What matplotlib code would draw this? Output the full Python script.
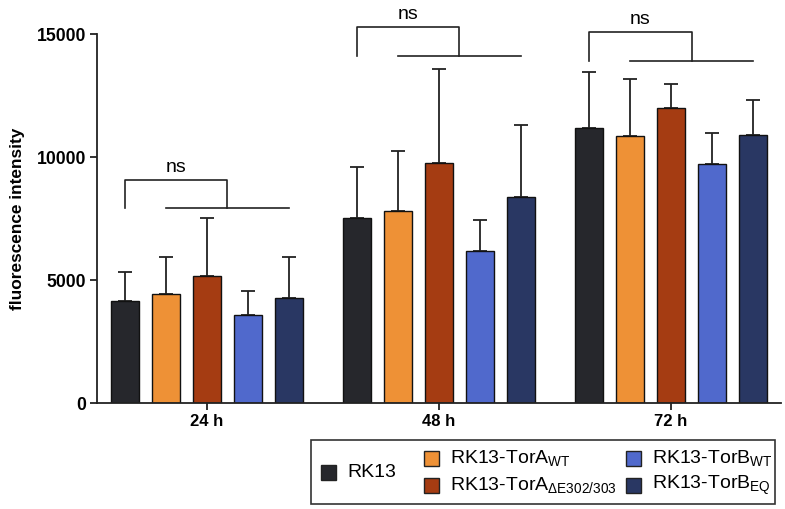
import numpy as np
import matplotlib
matplotlib.use('Agg')
from matplotlib import pyplot as plt
from matplotlib.patches import Rectangle

plt.rcParams['font.family'] = ['Liberation Sans', 'DejaVu Sans']
plt.rcParams['mathtext.fontset'] = 'custom'
plt.rcParams['mathtext.rm'] = 'Liberation Sans'
plt.rcParams['mathtext.it'] = 'Liberation Sans:italic'

timepoints = ['24 h', '48 h', '72 h']
series = ['RK13', 'RK13-TorA$_{\\mathrm{WT}}$', 'RK13-TorA$_{\\Delta\\mathrm{E302/303}}$',
          'RK13-TorB$_{\\mathrm{WT}}$', 'RK13-TorB$_{\\mathrm{EQ}}$']
colors = ['#26272c', '#ee9136', '#a53c12', '#5069cc', '#293763']

# mean per series, one value per timepoint
means = [
    [4160, 7520, 11200],
    [4440, 7820, 10870],
    [5190, 9760, 12020],
    [3590, 6180, 9730],
    [4290, 8370, 10890],
]
# upper end of error bar
tops = [
    [5330, 9620, 13480],
    [5960, 10270, 13170],
    [7520, 13600, 12980],
    [4550, 7450, 11000],
    [5940, 11300, 12330],
]
# significance brackets (upper, lower) per timepoint
bracket_hi = [9080, 15300, 15100]
bracket_lo = [7930, 14100, 13930]
sig_labels = ['ns', 'ns', 'ns']

fig = plt.figure(figsize=(7.85, 5.09), dpi=100)
ax = fig.add_axes([97/785, 1 - 403.3/509, 684/785, 369/509])

pitch = 0.1767
width = 0.12
groups = np.arange(len(timepoints))
for i, name in enumerate(series):
    x = groups + (i - 2) * pitch
    m = np.array(means[i])
    err = np.array(tops[i]) - m
    ax.bar(x, m, width=width, color=colors[i], edgecolor='#111111', linewidth=1.0, zorder=2)
    ax.errorbar(x, m, yerr=[np.zeros_like(err), err], fmt='none', ecolor='#222222',
                elinewidth=1.3, capsize=5, capthick=1.3, zorder=1)

for g in groups:
    xl = g - 2 * pitch
    xa = g - pitch
    xb = g + 2 * pitch
    xm = (xa + xb) / 2
    hi, lo = bracket_hi[g], bracket_lo[g]
    kw = dict(color='#222222', lw=1.2, clip_on=False)
    ax.plot([xl, xl, xm, xm], [lo, hi, hi, lo], **kw)
    ax.plot([xa, xb], [lo, lo], **kw)
    ax.text((xl + xm) / 2, hi + 150, sig_labels[g], ha='center', va='bottom',
            fontsize=14, clip_on=False)

ax.set_xlim(-0.474, 2.474)
ax.set_ylim(0, 15000)
ax.set_yticks([0, 5000, 10000, 15000])
ax.set_xticks(groups)
ax.set_xticklabels(timepoints, fontweight='bold', fontsize=12)
for lbl in ax.get_yticklabels():
    lbl.set_fontweight('bold')
    lbl.set_fontsize(12.7)
ax.set_ylabel('fluorescence intensity', fontweight='bold', fontsize=12.4, labelpad=8)
ax.spines['top'].set_visible(False)
ax.spines['right'].set_visible(False)
for s in ['left', 'bottom']:
    ax.spines[s].set_linewidth(1.3)
    ax.spines[s].set_color('#222222')
ax.tick_params(width=1.3, length=5, color='#222222', pad=3)

# legend box built by hand (RK13 sits centred between rows)
W, H = 785, 509
def fx(px): return px / W
def fy(py): return 1 - py / H

fig.add_artist(Rectangle((fx(311), fy(504)), fx(775) - fx(311), fy(440) - fy(504),
                         transform=fig.transFigure, fill=False, edgecolor='#333333', lw=1.2))
legend_pos = [(321, 472.5), (424, 458), (424, 485), (626, 458), (626, 485)]
sq = 15
for i, (px, py) in enumerate(legend_pos):
    fig.add_artist(Rectangle((fx(px), fy(py + sq / 2)), sq / W, sq / H, transform=fig.transFigure,
                             facecolor=colors[i], edgecolor='#222222', lw=1.0))
    fig.text(fx(px + 26), fy(py), series[i], fontsize=14, va='center', ha='left')

fig.savefig('out.png', dpi=100)
